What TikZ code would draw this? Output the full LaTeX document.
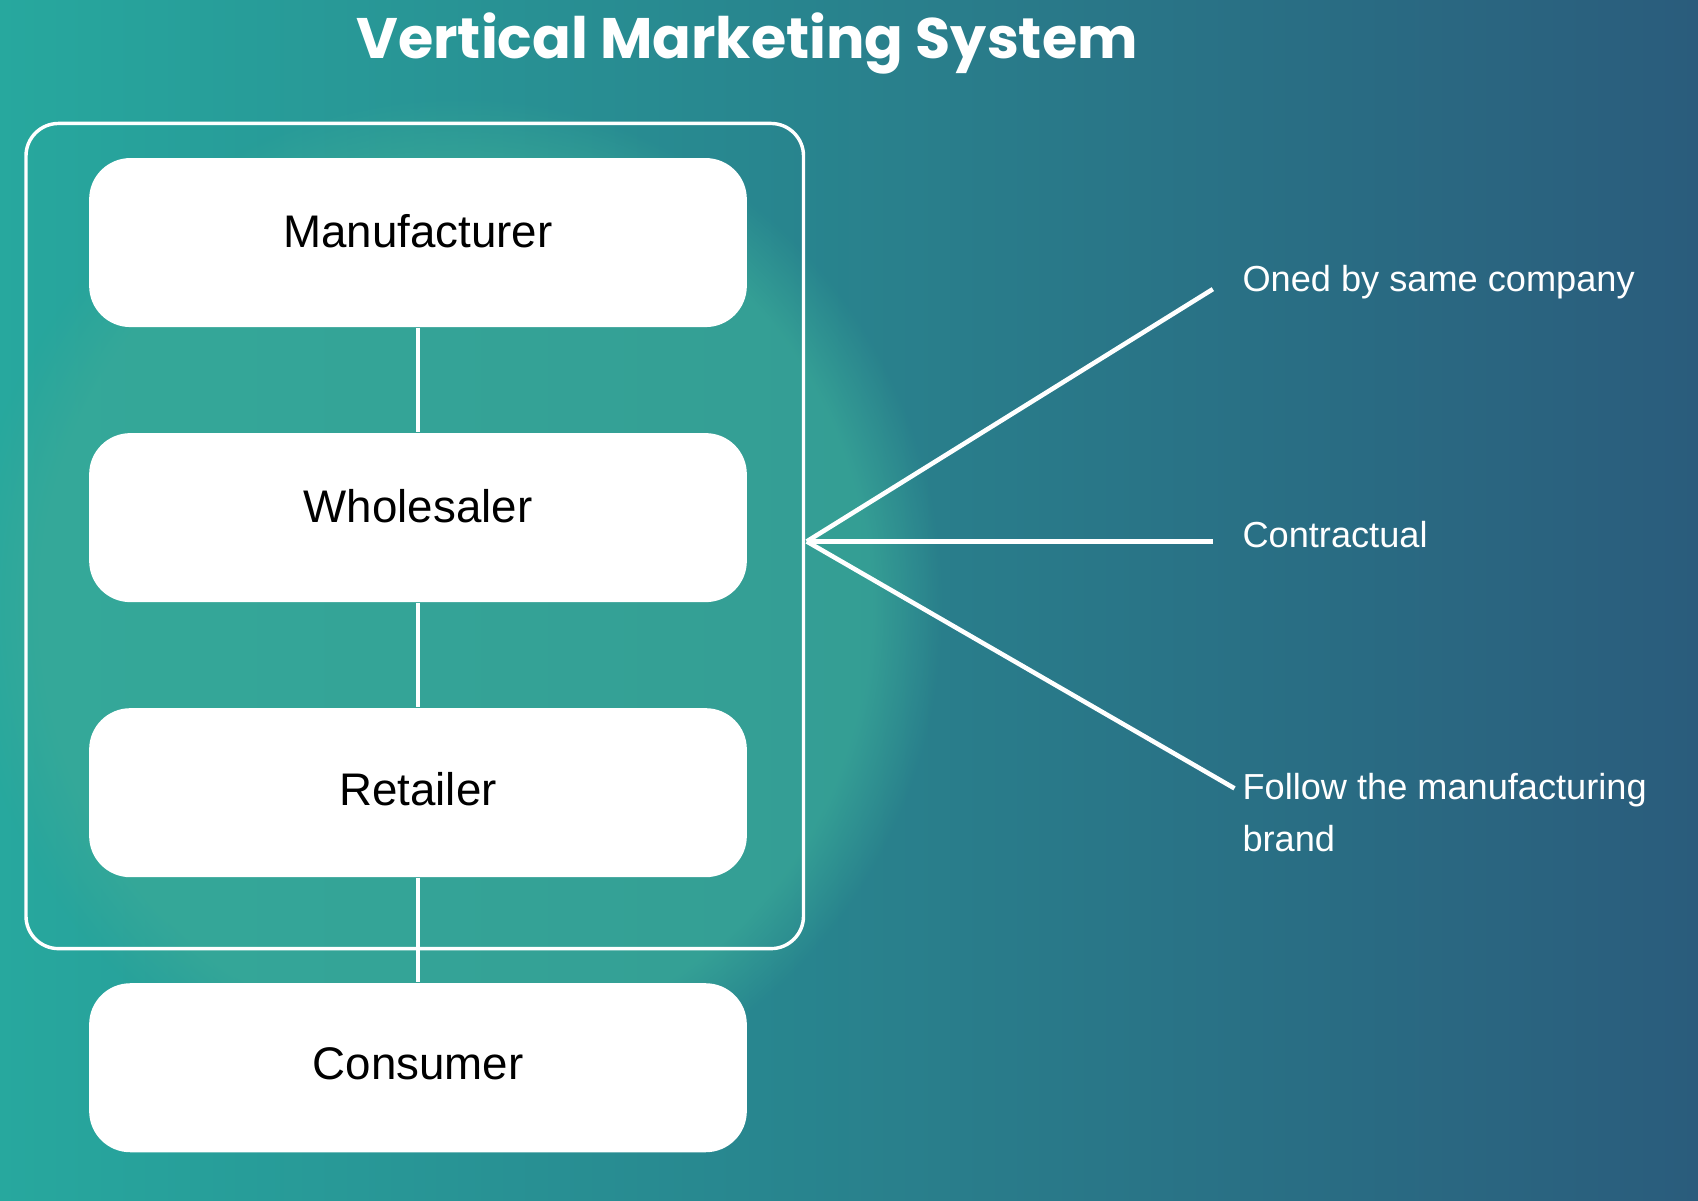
\documentclass[tikz,border=0pt]{standalone}
\usepackage{fontspec}
\usetikzlibrary{fadings}
\setmainfont{Liberation Sans}
\newfontfamily\titlefont{Poppins}
\definecolor{bgA}{HTML}{27A89E}
\definecolor{bgB}{HTML}{2A5C7C}
\definecolor{bgC}{HTML}{3AAA98}
\begin{document}
\begin{tikzpicture}[x=0.01cm,y=-0.01cm,
  box/.style={draw=none,fill=white,rounded corners=0.38cm,minimum width=6.07cm,minimum height=1.56cm,font=\fontsize{12}{14}\selectfont,text=black},
  conn/.style={draw=white,line width=1.2pt},
  lab/.style={anchor=west,text=white,font=\fontsize{9.5}{13.5}\selectfont,align=left}]
\useasboundingbox (0,0) rectangle (1568,1109);
\shade[shading angle=135,left color=bgA,right color=bgB] (0,0) rectangle (1568,1109);
\fill[bgC,opacity=0.7,path fading=circle with fuzzy edge 15 percent] (420,560) ellipse (450 and 470);
\node[text=white,font=\titlefont\bfseries\fontsize{15}{17}\selectfont] (title) at (690,40) {Vertical Marketing System};
\draw[white,line width=0.9pt,rounded corners=0.3cm] (24,114) rectangle (742,876);
\node[box] (m) at (386,224) {\raisebox{6pt}{Manufacturer}};
\node[box] (w) at (386,478) {\raisebox{6pt}{Wholesaler}};
\node[box] (r) at (386,732) {\raisebox{2pt}{Retailer}};
\node[box] (c) at (386,986) {\raisebox{2pt}{Consumer}};
\draw[conn] (m) -- (w);
\draw[conn] (w) -- (r);
\draw[conn] (r) -- (c);
\coordinate (o) at (745,500);
\coordinate (a) at (1120,267);
\coordinate (b) at (1120,500);
\coordinate (d) at (1140,728);
\draw[conn] (o) -- (a);
\draw[conn] (o) -- (b);
\draw[conn] (o) -- (d);
\node[lab] (la) at (1135,261) {Oned by same company};
\node[lab] (lb) at (1135,494) {Contractual};
\node[lab,anchor=north west] (lc) at (1135,702) {Follow the manufacturing\\brand};
\end{tikzpicture}
\end{document}
